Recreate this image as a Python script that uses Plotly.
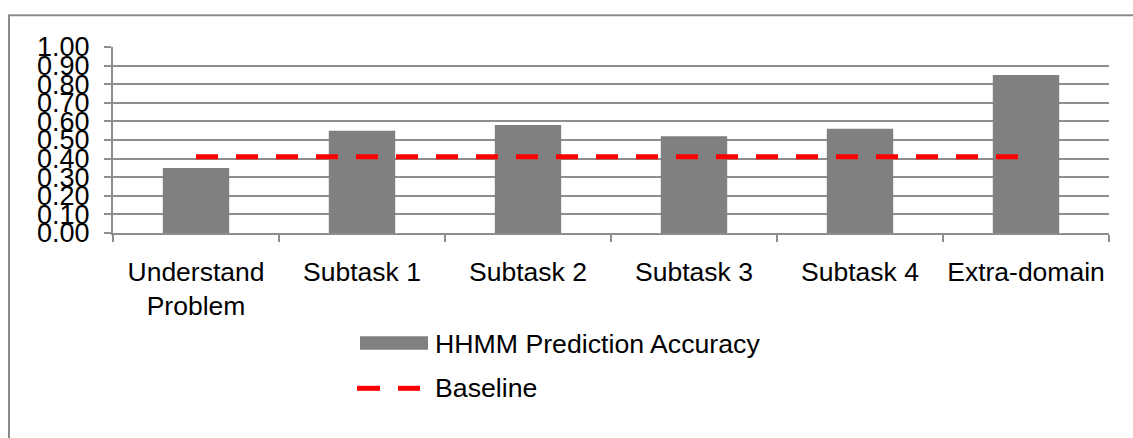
import plotly.graph_objects as go

# Chart data
categories = ["Understand<br>Problem", "Subtask 1", "Subtask 2", "Subtask 3", "Subtask 4", "Extra-domain"]
hhmm_accuracy = [0.35, 0.55, 0.58, 0.52, 0.56, 0.85]
baseline = [0.41, 0.41, 0.41, 0.41, 0.41, 0.41]
series_names = ["HHMM Prediction Accuracy", "Baseline"]

W, H = 1133, 438
L, R, T, B = 113, 1109, 46.7, 232.7  # plot area in pixels

FONT = "Liberation Sans, Arial, sans-serif"
GRID = "#8e8e8e"
BAR = "#808080"
RED = "#ff0000"


def px(x):
    return (x - L) / (R - L)


def py(y):
    return (B - y) / (B - T)


fig = go.Figure()
fig.add_trace(go.Bar(x=categories, y=hhmm_accuracy, name=series_names[0],
                     marker=dict(color=BAR, line=dict(width=0)), width=0.4))
fig.add_trace(go.Scatter(x=categories, y=baseline, name=series_names[1], mode="lines",
                         line=dict(color=RED, width=5, dash="22px,18px")))

# Legend drawn by hand: wide bar swatch and two-dash line sample
shapes = [
    dict(type="rect", xref="paper", yref="paper", x0=px(9), x1=px(1145), y0=py(15), y1=py(450),
         line=dict(color="#8a8a8a", width=2), fillcolor="rgba(0,0,0,0)", layer="below"),
    dict(type="rect", xref="paper", yref="paper", x0=px(360), x1=px(428), y0=py(336), y1=py(349.5),
         line=dict(width=0), fillcolor=BAR),
    dict(type="line", xref="paper", yref="paper", x0=px(357), x1=px(380), y0=py(388), y1=py(388),
         line=dict(color=RED, width=5)),
    dict(type="line", xref="paper", yref="paper", x0=px(398), x1=px(420), y0=py(388), y1=py(388),
         line=dict(color=RED, width=5)),
]
annotations = [
    dict(text=series_names[0], xref="paper", yref="paper", x=px(433), y=py(344), xanchor="left",
         yanchor="middle", showarrow=False, font=dict(family=FONT, size=26.7, color="black")),
    dict(text=series_names[1], xref="paper", yref="paper", x=px(433), y=py(388), xanchor="left",
         yanchor="middle", showarrow=False, font=dict(family=FONT, size=26.7, color="black")),
]

fig.update_layout(
    width=W, height=H,
    margin=dict(l=L, r=W - R, t=T, b=H - B, pad=0, autoexpand=False),
    paper_bgcolor="white", plot_bgcolor="white",
    showlegend=False,
    bargap=0.6,
    font=dict(family=FONT, size=26.5, color="black"),
    shapes=shapes,
    annotations=annotations,
)
fig.update_xaxes(
    type="category", tickson="boundaries", ticks="outside", ticklen=7, tickwidth=2,
    tickcolor=GRID, showline=True, linecolor=GRID, linewidth=2, showgrid=False,
    tickangle=0, automargin=False,
    tickfont=dict(family=FONT, size=26.5, color="black"), ticklabelstandoff=14,
)
fig.update_yaxes(
    range=[0, 1], dtick=0.1, tick0=0, tickformat=".2f", ticks="outside", ticklen=7,
    tickwidth=2, tickcolor=GRID, showline=True, linecolor=GRID, linewidth=2,
    showgrid=True, gridcolor=GRID, gridwidth=2, zeroline=False, automargin=False,
    tickfont=dict(family=FONT, size=27, color="black"), ticklabelstandoff=9,
)

fig.write_html("out.html")
